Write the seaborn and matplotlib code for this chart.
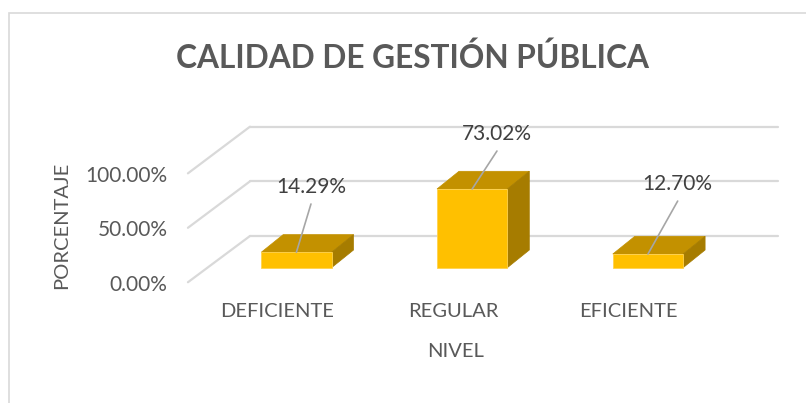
import numpy as np
import pandas as pd
import matplotlib
matplotlib.use("Agg")
import matplotlib.pyplot as plt
from matplotlib.patches import Polygon, Rectangle
from matplotlib.lines import Line2D
import seaborn as sns

# ---- data ----
categories = ["DEFICIENTE", "REGULAR", "EFICIENTE"]
porcentajes = [14.29, 73.02, 12.70]
y_ticks = [0, 50, 100]
y_tick_labels = ["0.00%", "50.00%", "100.00%"]
title = "CALIDAD DE GESTIÓN PÚBLICA"
x_title = "NIVEL"
y_title = "PORCENTAJE"

# ---- style ----
FRONT = "#FFC000"
TOP = "#C39100"
SIDE = "#A67C00"
GRID = "#D9D9D9"
TXT = "#595959"
LBL = "#404040"
LEADER = "#A6A6A6"

sns.set_theme(style="white")
plt.rcParams["font.family"] = ["Lato", "DejaVu Sans"]

df = pd.DataFrame({"nivel": categories, "porcentaje": porcentajes})

fig = plt.figure(figsize=(8.06, 4.03), dpi=100)
ax = fig.add_axes([0, 0, 1, 1])
sns.barplot(data=df, x="nivel", y="porcentaje", color=FRONT, width=0.40,
            saturation=1, ax=ax, zorder=3, edgecolor="#FFD24D", linewidth=0.6)

# pixel-like mapping of the canvas
ax.set_xlim(-1.686, 2.899)
ax.set_ylim(-125.5, 248.3)
ax.axis("off")

# 3D depth parameters
bar_dx, bar_dv = 0.125, 16.4          # bar depth
wall_x0, wall_x1 = -0.264, 2.74       # back wall gridline extent
wall_lift = 29.4                       # back wall vertical offset
front_x, front_drop = -0.617, -13.5    # left wall front edge

for t in y_ticks:
    # back wall gridline
    ax.add_line(Line2D([wall_x0, wall_x1], [t * 1.014 + wall_lift] * 2,
                       color=GRID, lw=1.6, zorder=1))
    # left wall diagonal
    ax.add_line(Line2D([front_x, wall_x0], [t * 1.01 + front_drop, t * 1.014 + wall_lift],
                       color=GRID, lw=1.6, zorder=1))
for t, lab in zip(y_ticks, y_tick_labels):
    ax.text(-0.732, t * 1.01 + front_drop - 2.2, lab, ha="right", va="center",
            fontsize=15, color=TXT)

# 3D faces on each bar
for p in ax.patches[:len(porcentajes)]:
    x0 = p.get_x()
    x1 = x0 + p.get_width()
    h = p.get_height()
    top = Polygon([(x0, h), (x1, h), (x1 + bar_dx, h + bar_dv), (x0 + bar_dx, h + bar_dv)],
                  closed=True, facecolor=TOP, edgecolor=TOP, lw=0.5, zorder=2.5)
    side = Polygon([(x1, 0), (x1 + bar_dx, bar_dv), (x1 + bar_dx, h + bar_dv), (x1, h)],
                   closed=True, facecolor=SIDE, edgecolor=SIDE, lw=0.5, zorder=2.5)
    ax.add_patch(top)
    ax.add_patch(side)

# data labels with leader lines
label_offsets = [(0.083, 60.6), (0.141, 51.0), (0.169, 64.9)]
for p, val, (odx, odv) in zip(ax.patches[:len(porcentajes)], porcentajes, label_offsets):
    cx = p.get_x() + p.get_width() / 2
    h = p.get_height()
    lx, lv = cx + odx, h + odv
    ax.text(lx, lv, f"{val:.2f}%", ha="center", va="center", fontsize=15,
            color=LBL, zorder=5)
    ax.add_line(Line2D([lx, cx], [lv - 15.8, h], color=LEADER, lw=1.2, zorder=4))

# category labels
for i, c in enumerate(categories):
    ax.text(i - 0.11, -41, c, ha="center", va="center", fontsize=14.5, color=TXT)
ax.text(0.905, -78, x_title, ha="center", va="center", fontsize=14.5, color=TXT)
ax.text(-1.335, 39.6, y_title, ha="center", va="center", rotation=90,
        fontsize=14.5, color=TXT)

fig.text(412 / 806, 1 - 58 / 403, title, ha="center", va="center",
         fontsize=22.8, fontweight="bold", color=TXT)

# chart border
fig.patches.append(Rectangle((9 / 806, -0.2), 1.2, 1 - 13 / 403 + 0.2,
                             transform=fig.transFigure, fill=False,
                             edgecolor=GRID, lw=1.2))

fig.savefig("out.png", dpi=100, facecolor="white")
